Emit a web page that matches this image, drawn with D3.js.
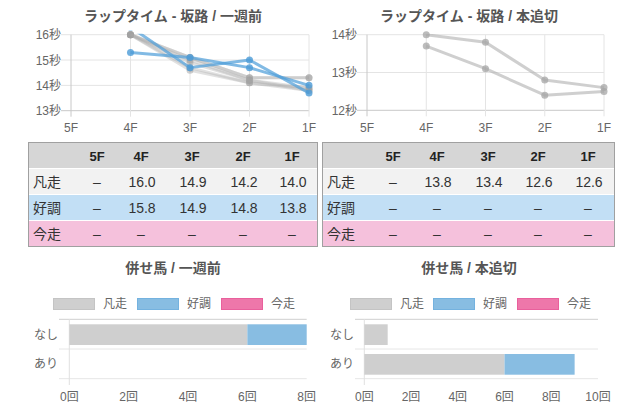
<!DOCTYPE html>
<html><head><meta charset="utf-8">
<script src="https://cdn.jsdelivr.net/npm/d3@7"></script>
<style>
html,body{margin:0;padding:0;background:#fff;}
svg{display:block;font-family:"Liberation Sans","Noto Sans CJK JP",Arial,sans-serif;}
</style></head>
<body>
<svg id="c" width="640" height="418"></svg>
<script>
// ---- data ----
const furlongs = ["5F","4F","3F","2F","1F"];
const weekTitle = "ラップタイム - 坂路 / 一週前";
const finalTitle = "ラップタイム - 坂路 / 本追切";
const weekYTicks = [13,14,15,16];
const finalYTicks = [12,13,14];
const weekGrey = [
  [null,16.0,15.1,14.3,14.3],
  [null,16.0,15.1,14.3,14.3],
  [null,16.0,14.6,14.1,13.8],
  [null,16.0,14.7,14.1,13.9],
  [null,16.0,14.9,14.2,13.8],
  [null,16.0,15.0,14.2,13.9]
];
const weekBlue = [
  [null,16.3,14.7,15.0,13.7],
  [null,15.3,15.1,14.7,14.0]
];
const finalGrey = [
  [null,14.0,13.8,12.8,12.6],
  [null,13.7,13.1,12.4,12.5]
];
const rowLabels = ["凡走","好調","今走"];
const weekTable = [
  ["–","16.0","14.9","14.2","14.0"],
  ["–","15.8","14.9","14.8","13.8"],
  ["–","–","–","–","–"]
];
const finalTable = [
  ["–","13.8","13.4","12.6","12.6"],
  ["–","–","–","–","–"],
  ["–","–","–","–","–"]
];
const barCats = ["なし","あり"];
const barSeries = ["凡走","好調","今走"];
const weekBars = { "なし":[6,2,0], "あり":[0,0,0] };
const finalBars = { "なし":[1,0,0], "あり":[6,3,0] };
const weekBarTitle = "併せ馬 / 一週前";
const finalBarTitle = "併せ馬 / 本追切";
const weekBarTicks = [0,2,4,6,8];
const finalBarTicks = [0,2,4,6,8,10];

// ---- styles ----
const svg = d3.select("#c");
const seriesFill = ["#cfcfcf","#88bde2","#ee77aa"];
const seriesStroke = ["#c4c4c4","#74b2df","#e9609c"];
const rowBg = ["#f2f2f2","#c2dff5","#f5c1dc"];

function lineChart(o){
  const g = svg.append("g");
  const x = d3.scalePoint().domain(furlongs).range([o.x0,o.x1]);
  const y = d3.scaleLinear().domain(o.yDomain).range([o.y1,o.y0]);
  g.append("text").attr("x",o.titleX).attr("y",21).attr("text-anchor","middle")
    .attr("font-size",14).attr("font-weight","bold").attr("fill","#555").text(o.title);
  g.selectAll(".hg").data(o.yTicks).join("line")
    .attr("x1",o.x0-10).attr("x2",o.x1).attr("y1",d=>y(d)).attr("y2",d=>y(d))
    .attr("stroke",(d,i)=>i===0?"#c8c8c8":"#e4e4e4").attr("stroke-width",1);
  g.selectAll(".vg").data(furlongs).join("line")
    .attr("x1",d=>x(d)).attr("x2",d=>x(d)).attr("y1",o.y0).attr("y2",o.y1+6)
    .attr("stroke",(d,i)=>i===0?"#c8c8c8":"#e4e4e4").attr("stroke-width",1);
  g.selectAll(".yl").data(o.yTicks).join("text")
    .attr("x",o.x0-10).attr("y",d=>y(d)+4.5).attr("text-anchor","end")
    .attr("font-size",12).attr("fill","#666").text(d=>d+"秒");
  g.selectAll(".xl").data(furlongs).join("text")
    .attr("x",d=>x(d)).attr("y",132).attr("text-anchor","middle")
    .attr("font-size",12).attr("fill","#666").text(d=>d);
  const cid = "clip"+o.id;
  svg.append("clipPath").attr("id",cid).append("rect")
    .attr("x",o.x0-6).attr("y",o.y0-1).attr("width",o.x1-o.x0+12).attr("height",o.y1-o.y0+8);
  const cidp = "clipp"+o.id;
  svg.append("clipPath").attr("id",cidp).append("rect")
    .attr("x",o.x0-6).attr("y",o.y0-4.5).attr("width",o.x1-o.x0+12).attr("height",o.y1-o.y0+10);
  const line = d3.line().defined(d=>d.v!=null).x(d=>x(d.k)).y(d=>y(d.v));
  const draw = (sets,col,pcol)=>{
    sets.forEach(s=>{
      const pts = s.map((v,i)=>({k:furlongs[i],v}));
      g.append("path").attr("clip-path",`url(#${cid})`).attr("d",line(pts))
        .attr("fill","none").attr("stroke",col).attr("stroke-width",3).attr("stroke-linejoin","round");
      g.append("g").attr("clip-path",`url(#${cidp})`).selectAll("circle")
        .data(pts.filter(p=>p.v!=null)).join("circle")
        .attr("cx",d=>x(d.k)).attr("cy",d=>y(d.v)).attr("r",3.5).attr("fill",pcol);
    });
  };
  draw(o.grey,o.greyLine,o.greyPt);
  if(o.blue) draw(o.blue,"rgba(80,160,218,0.72)","rgba(75,155,215,0.8)");
}

lineChart({id:1,title:weekTitle,titleX:173,x0:71,x1:309,y0:34.7,y1:110.7,yDomain:[13,16],yTicks:weekYTicks,grey:weekGrey,blue:weekBlue,
  greyLine:"rgba(175,175,175,0.38)",greyPt:"rgba(160,160,160,0.5)"});
lineChart({id:2,title:finalTitle,titleX:469,x0:367,x1:604,y0:34.7,y1:110.3,yDomain:[12,14],yTicks:finalYTicks,grey:finalGrey,blue:null,
  greyLine:"rgba(175,175,175,0.6)",greyPt:"rgba(165,165,165,0.75)"});

function table(o){
  const g = svg.append("g");
  const W = o.x1-o.x0, top=142, rh=26;
  const cx = o.cols;
  g.append("rect").attr("x",o.x0).attr("y",top).attr("width",W).attr("height",rh).attr("fill","#d6d6d6");
  rowLabels.forEach((r,i)=>{
    g.append("rect").attr("x",o.x0).attr("y",top+rh*(i+1)+1).attr("width",W).attr("height",rh-1).attr("fill",rowBg[i]);
  });
  g.append("rect").attr("x",o.x0+0.5).attr("y",top+0.5).attr("width",W-1).attr("height",rh*4)
    .attr("fill","none").attr("stroke","#a0a0a0").attr("stroke-width",1);
  g.selectAll(".h").data(furlongs).join("text")
    .attr("x",(d,i)=>o.x0+cx[i]).attr("y",top+19).attr("text-anchor","middle")
    .attr("font-size",13).attr("font-weight","bold").attr("fill","#222").text(d=>d);
  rowLabels.forEach((r,i)=>{
    const yb = top+rh*(i+1)+19;
    g.append("text").attr("x",o.x0+5).attr("y",yb).attr("font-size",14).attr("fill","#333").text(r);
    g.selectAll(".v"+i).data(o.rows[i]).join("text")
      .attr("x",(d,j)=>o.x0+cx[j]+(d.length>1?1:0)).attr("y",yb).attr("text-anchor","middle")
      .attr("font-size",14).attr("fill","#333").text(d=>d);
  });
}
table({x0:28,x1:318,cols:[69,113,164,215,264],rows:weekTable});
table({x0:322,x1:615,cols:[71,115,166,216,266],rows:finalTable});

function barChart(o){
  const g = svg.append("g");
  g.append("text").attr("x",o.titleX).attr("y",273).attr("text-anchor","middle")
    .attr("font-size",14).attr("font-weight","bold").attr("fill","#555").text(o.title);
  barSeries.forEach((s,i)=>{
    const lx = o.legX[i];
    g.append("rect").attr("x",lx+0.5).attr("y",298.5).attr("width",41).attr("height",11)
      .attr("fill",seriesFill[i]).attr("stroke",seriesStroke[i]).attr("stroke-width",1);
    g.append("text").attr("x",lx+50).attr("y",308).attr("font-size",12).attr("fill","#666").text(s);
  });
  const x = d3.scaleLinear().domain([0,o.max]).range([o.x0,o.x1]);
  const y = d3.scaleBand().domain(barCats).range([319.3,378.7]);
  [0,1,2].forEach(i=>{
    const yy = 319.3 + i*y.step();
    g.append("line").attr("x1",o.gx).attr("x2",o.x1).attr("y1",yy).attr("y2",yy)
      .attr("stroke",i===0?"#cfcfcf":"#e6e6e6").attr("stroke-width",1);
  });
  g.append("line").attr("x1",o.x0).attr("x2",o.x0).attr("y1",319.3).attr("y2",385)
    .attr("stroke","#e0e0e0").attr("stroke-width",1);
  barCats.forEach(c=>{
    const vals = o.data[c];
    let acc=0;
    vals.forEach((v,i)=>{
      if(v>0){
        g.append("rect").attr("x",x(acc)).attr("y",y(c)+5).attr("width",x(acc+v)-x(acc)).attr("height",y.bandwidth()-9)
          .attr("fill",seriesFill[i]);
      }
      acc+=v;
    });
    g.append("text").attr("x",o.gx-1).attr("y",y(c)+y.bandwidth()/2+4.5).attr("text-anchor","end")
      .attr("font-size",12).attr("fill","#666").text(c);
  });
  g.selectAll(".xt").data(o.ticks).join("text")
    .attr("x",d=>x(d)).attr("y",401).attr("text-anchor","middle")
    .attr("font-size",12).attr("fill","#666").text(d=>d+"回");
}
barChart({title:weekBarTitle,titleX:173,legX:[53,137,221],x0:69.3,x1:306.7,gx:59,max:8,ticks:weekBarTicks,data:weekBars});
barChart({title:finalBarTitle,titleX:469,legX:[350,433,517],x0:364.3,x1:598,gx:355,max:10,ticks:finalBarTicks,data:finalBars});
</script>
</body></html>
